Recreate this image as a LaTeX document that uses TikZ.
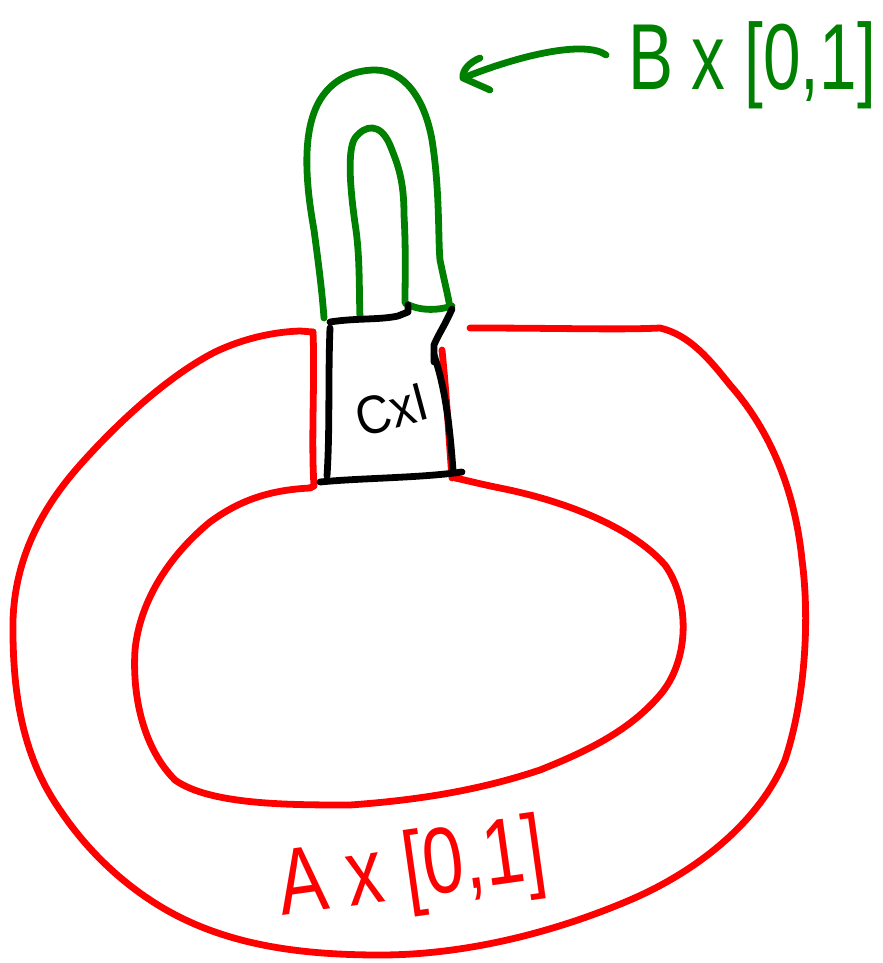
\documentclass[tikz,border=0pt]{standalone}
\usepackage{fontspec}
\setmainfont{Liberation Sans}
\begin{document}
\begin{tikzpicture}[x=0.03cm,y=-0.03cm,
  pen/.style={line width=5.8pt,line cap=round,line join=round},
  redpen/.style={pen,draw={rgb,255:red,255;green,0;blue,0}},
  greenpen/.style={pen,draw={rgb,255:red,0;green,128;blue,0}},
  blackpen/.style={pen,draw=black},
  lbl/.style={inner sep=0pt}]
\useasboundingbox (0,0) rectangle (882,963);
% red torus: outer boundary
\draw[redpen] (313,332) -- (300,331) .. controls (270,332) and (240,340) .. (215,352)
  .. controls (170,375) and (120,420) .. (80,465)
  .. controls (40,510) and (15,560) .. (13,620)
  .. controls (12,700) and (25,760) .. (60,810)
  .. controls (90,855) and (130,890) .. (170,912)
  .. controls (230,945) and (300,955) .. (380,955)
  .. controls (470,955) and (560,930) .. (630,900)
  .. controls (700,870) and (760,820) .. (785,760)
  .. controls (805,700) and (810,620) .. (802,560)
  .. controls (795,490) and (770,430) .. (730,385)
  .. controls (710,360) and (690,335) .. (660,328)
  .. controls (620,330) and (560,328) .. (470,328);
% red inner boundary
\draw[redpen] (310,488) .. controls (270,490) and (240,500) .. (210,522)
  .. controls (170,555) and (140,600) .. (135,650)
  .. controls (132,700) and (145,750) .. (175,780)
  .. controls (210,805) and (290,805) .. (350,805)
  .. controls (420,800) and (480,790) .. (540,770)
  .. controls (590,750) and (630,730) .. (660,695)
  .. controls (690,660) and (690,600) .. (665,565)
  .. controls (630,525) and (560,500) .. (500,488)
  .. controls (480,484) and (465,480) .. (455,478);
% red edges along strip
\draw[redpen] (313,332) .. controls (315,380) and (311,440) .. (314,486) -- (310,488);
\draw[redpen] (442,350) .. controls (447,400) and (449,440) .. (452,478);
% green handle
\draw[greenpen] (324,318) .. controls (322,290) and (318,260) .. (314,230)
  .. controls (305,180) and (302,130) .. (320,100)
  .. controls (335,75) and (360,70) .. (375,70)
  .. controls (405,70) and (425,100) .. (432,140)
  .. controls (440,190) and (438,240) .. (440,260)
  .. controls (444,280) and (448,295) .. (450,308);
\draw[greenpen] (360,318) .. controls (359,290) and (360,260) .. (356,230)
  .. controls (350,190) and (347,150) .. (355,138)
  .. controls (365,125) and (380,122) .. (390,145)
  .. controls (398,165) and (404,180) .. (404,215)
  .. controls (406,250) and (405,280) .. (405,303)
  .. controls (420,312) and (440,310) .. (452,306);
% black square C x I
\draw[blackpen] (330,322) .. controls (355,318) and (380,320) .. (398,316) -- (408,312) -- (408,305);
\draw[blackpen] (452,309) .. controls (445,325) and (438,335) .. (434,345) -- (434,362);
\draw[blackpen] (330,328) .. controls (328,380) and (330,430) .. (327,476);
\draw[blackpen] (434,355) .. controls (446,390) and (450,430) .. (453,470);
\draw[blackpen] (320,482) .. controls (360,478) and (420,478) .. (462,472);
\node[lbl,rotate=15,xscale=0.9] (cxi) at (392,410) {\fontsize{46}{46}\selectfont CxI};
% labels
\node[lbl,text={rgb,255:red,0;green,128;blue,0},xscale=0.72] (blabel) at (752,65) {\fontsize{80}{80}\selectfont B x [0,1]};
\node[lbl,text={rgb,255:red,255;green,0;blue,0},rotate=8,xscale=0.78] (alabel) at (412,873) {\fontsize{80}{80}\selectfont A x [0,1]};
% arrow
\coordinate (tip) at (463,78);
\draw[greenpen] (blabel.west) ++(-22,-10) .. controls (585,40) and (520,55) .. (tip);
\draw[greenpen] (480,58) .. controls (470,62) and (462,70) .. (tip) -- (490,90);
\end{tikzpicture}
\end{document}
